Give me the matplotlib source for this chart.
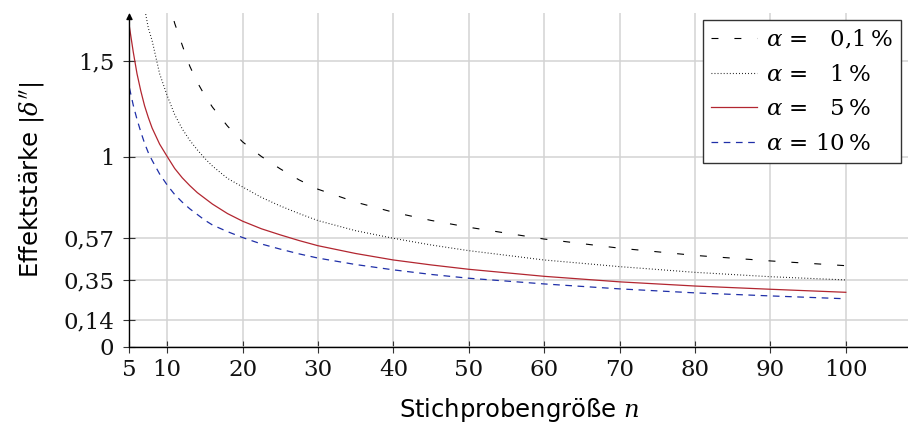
import matplotlib.pyplot as plt

plt.rcParams['mathtext.fontset'] = 'dejavuserif'
plt.rcParams['lines.scale_dashes'] = False

# Stichprobengröße n
n = [5, 5.5, 6, 6.5, 7, 7.5, 8, 9, 10, 11, 12, 13, 14, 15, 16, 18, 20, 22.5, 25,
     27.5, 30, 35, 40, 45, 50, 60, 70, 80, 90, 100]

# Effektstärke je Signifikanzniveau
d_01 = [None, None, None, None, None, None, None, None, 1.84, 1.70, 1.585, 1.475,
        1.39, 1.32, 1.26, 1.16, 1.077, 1.0, 0.935, 0.877, 0.828, 0.76, 0.707,
        0.664, 0.628, 0.566, 0.518, 0.480, 0.451, 0.426]
d_1 = [None, None, None, None, 1.78, 1.675, 1.61, 1.435, 1.32, 1.22, 1.145, 1.085,
       1.035, 0.99, 0.95, 0.885, 0.84, 0.785, 0.74, 0.70, 0.663, 0.61, 0.570,
       0.535, 0.505, 0.456, 0.421, 0.391, 0.368, 0.351]
d_5 = [1.68, 1.55, 1.435, 1.345, 1.267, 1.205, 1.15, 1.065, 1.0, 0.937, 0.888, 0.847,
       0.81, 0.78, 0.75, 0.70, 0.66, 0.62, 0.588, 0.558, 0.531, 0.49, 0.456,
       0.43, 0.407, 0.370, 0.341, 0.319, 0.302, 0.286]
d_10 = [1.36, 1.27, 1.195, 1.13, 1.07, 1.02, 0.98, 0.908, 0.85, 0.80, 0.76, 0.725,
        0.695, 0.665, 0.64, 0.605, 0.574, 0.54, 0.513, 0.488, 0.466, 0.432, 0.404,
        0.380, 0.360, 0.330, 0.304, 0.283, 0.267, 0.252]

x_ticks = [5, 10, 20, 30, 40, 50, 60, 70, 80, 90, 100]
y_ticks = [0, 0.14, 0.35, 0.57, 1, 1.5]
y_labels = ['0', '0,14', '0,35', '0,57', '1', '1,5']

labels = ['$\\alpha$ =   0,1\u2009%', '$\\alpha$ =   1\u2009%',
          '$\\alpha$ =   5\u2009%', '$\\alpha$ = 10\u2009%']

fig = plt.figure(figsize=(9.08, 4.23), dpi=100)
ax = fig.add_axes([0.1426, 0.1804, 0.8574, 0.789])


def pairs(ys):
    xs = [x for x, y in zip(n, ys) if y is not None]
    return xs, [y for y in ys if y is not None]


x, y = pairs(d_01)
ax.plot(x, y, color='black', lw=0.8, dashes=(5, 11.5), label=labels[0])
x, y = pairs(d_1)
ax.plot(x, y, color='black', lw=0.8, dashes=(0.6, 1.6), label=labels[1])
x, y = pairs(d_5)
ax.plot(x, y, color='#b22630', lw=0.9, label=labels[2])
x, y = pairs(d_10)
ax.plot(x, y, color='#1f2fa8', lw=0.9, dashes=(4.8, 4), label=labels[3])

ax.set_xlim(5, 108.25)
ax.set_ylim(0, 1.755)

ax.set_xticks(x_ticks)
ax.set_yticks(y_ticks)
ax.set_yticklabels(y_labels)
ax.tick_params(direction='inout', length=8, width=0.8, labelsize=16.5, colors='#333333',
               labelcolor='#111111')
ax.tick_params(axis='x', pad=5)
ax.tick_params(axis='y', pad=7)
for lab in ax.get_xticklabels() + ax.get_yticklabels():
    lab.set_fontfamily('DejaVu Serif')

ax.grid(True, color='#d3d3d3', lw=1.1)
ax.set_axisbelow(True)

for s in ['top', 'right', 'left']:
    ax.spines[s].set_visible(False)
ax.spines['bottom'].set_linewidth(1.0)
ax.annotate('', xy=(0, 1.0), xytext=(0, 0), xycoords='axes fraction',
            arrowprops=dict(arrowstyle='-|>', lw=1.0, color='black',
                            mutation_scale=9, shrinkA=0, shrinkB=0))

ax.set_xlabel('Stichprobengröße $n$', fontsize=17.5, fontfamily='DejaVu Sans', labelpad=11)
ax.set_ylabel("Effektstärke $|\\delta''|$", fontsize=17.5, fontfamily='DejaVu Sans',
              labelpad=12)

leg = ax.legend(loc='upper right', bbox_to_anchor=(0.991, 0.979), borderaxespad=0,
                fancybox=False, framealpha=1, edgecolor='#333333',
                prop={'family': 'DejaVu Serif', 'size': 16.5},
                handlelength=2.0, handletextpad=0.4, labelspacing=0.55,
                borderpad=0.35)
leg.get_frame().set_linewidth(1.0)

fig.savefig('out.png', dpi=100)
